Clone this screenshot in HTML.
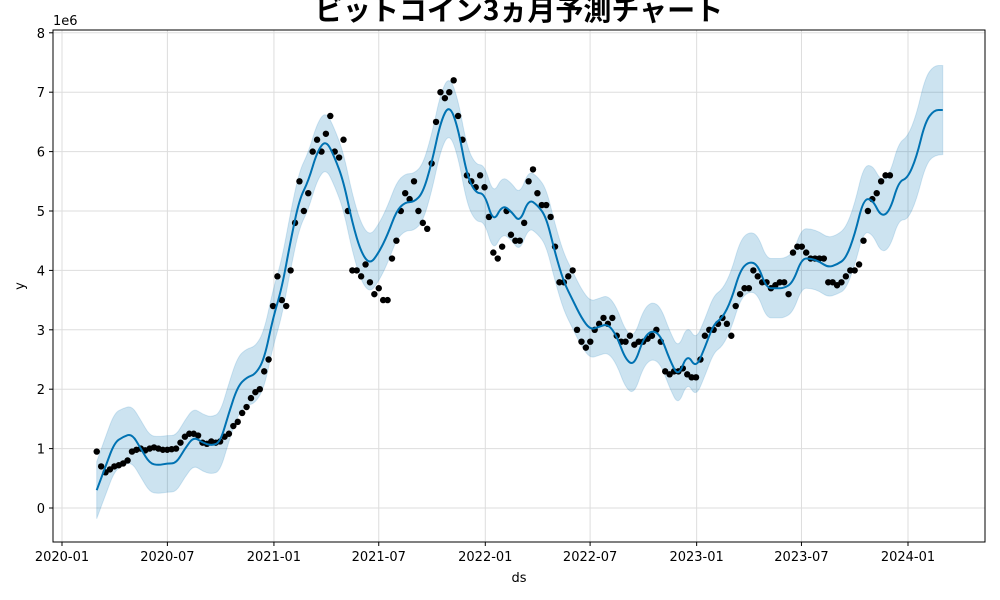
<!DOCTYPE html>
<html><head><meta charset="utf-8"><style>
html,body{margin:0;padding:0;background:#fff;}
svg{display:block;font-family:"DejaVu Sans","Liberation Sans","Noto Sans CJK JP",sans-serif;}
</style></head><body>
<svg id="chart" width="1000" height="600" viewBox="0 0 1000 600">
<text x="519" y="20" text-anchor="middle" font-size="28" font-weight="bold" font-family="'Noto Sans CJK JP','WenQuanYi Zen Hei',sans-serif">ビットコイン3ヵ月予測チャート</text>
<text x="53" y="25" font-size="13">1e6</text>
<text x="24" y="286" font-size="13" text-anchor="middle" transform="rotate(-90 24 286)">y</text>
<text x="519" y="582" font-size="13" text-anchor="middle">ds</text>
<g id="grid"></g><g id="band"></g><g id="pts"></g><g id="line"></g><g id="ticks"></g>
<rect x="53" y="30" width="932" height="512" fill="none" stroke="#000" stroke-width="1"/>
</svg>
<script>
// actual observations (1e6 JPY), sampled every quarter-month starting 2020-03-01
const actStartDay = 60;
const actStepDays = 7.61;
const actual = [0.95,0.7,0.6,0.65,0.7,0.72,0.75,0.8,0.95,0.98,1.0,0.97,1.0,1.02,1.0,0.98,0.98,0.99,1.0,1.1,1.2,1.25,1.25,1.22,1.1,1.08,1.12,1.1,1.12,1.2,1.25,1.38,1.45,1.6,1.7,1.85,1.95,2.0,2.3,2.5,
3.4,3.9,3.5,3.4,4.0,4.8,5.5,5.0,5.3,6.0,6.2,6.0,6.3,6.6,6.0,5.9,6.2,5.0,4.0,4.0,3.9,4.1,3.8,3.6,3.7,3.5,3.5,4.2,4.5,5.0,5.3,5.2,5.5,5.0,4.8,4.7,5.8,6.5,7.0,6.9,7.0,7.2,6.6,6.2,5.6,5.5,5.4,5.6,
5.4,4.9,4.3,4.2,4.4,5.0,4.6,4.5,4.5,4.8,5.5,5.7,5.3,5.1,5.1,4.9,4.4,3.8,3.8,3.9,4.0,3.0,2.8,2.7,2.8,3.0,3.1,3.2,3.1,3.2,2.9,2.8,2.8,2.9,2.75,2.8,2.8,2.85,2.9,3.0,2.8,2.3,2.25,2.3,2.3,2.35,2.25,2.2,
2.2,2.5,2.9,3.0,3.0,3.1,3.2,3.1,2.9,3.4,3.6,3.7,3.7,4.0,3.9,3.8,3.8,3.7,3.75,3.8,3.8,3.6,4.3,4.4,4.4,4.3,4.2,4.2,4.2,4.2,3.8,3.8,3.75,3.8,3.9,4.0,4.0,4.1,4.5,5.0,5.2,5.3,5.5,5.6,5.6];
// forecast, sampled every half-month starting 2020-03-01
const fcStartDay = 60;
const fcStepDays = 15.22;
const yhat = [0.3,0.7,1.1,1.2,1.25,1.0,0.75,0.72,0.75,0.75,1.0,1.2,1.1,1.05,1.1,1.6,2.05,2.2,2.25,2.5,
3.2,3.7,4.5,5.2,5.5,6.0,6.2,5.9,5.5,4.8,4.3,4.1,4.3,4.6,5.0,5.15,5.15,5.3,5.8,6.5,6.8,6.4,5.6,5.3,
5.3,4.8,5.1,5.0,4.8,5.2,5.1,4.9,4.3,3.8,3.5,3.2,3.0,3.05,3.1,2.9,2.5,2.4,2.85,3.0,2.9,2.5,2.2,2.6,
2.35,2.7,3.1,3.2,3.5,4.0,4.15,4.1,3.7,3.7,3.7,3.8,4.2,4.2,4.15,4.05,4.1,4.2,4.6,5.2,5.2,4.9,5.0,5.5,
5.55,5.9,6.5,6.7,6.7];
const upper = [0.78,1.2,1.6,1.68,1.72,1.48,1.22,1.2,1.22,1.22,1.48,1.68,1.58,1.53,1.6,2.1,2.55,2.68,2.72,2.98,
3.68,4.18,4.98,5.68,5.98,6.48,6.68,6.38,5.98,5.28,4.78,4.58,4.78,5.08,5.48,5.63,5.63,5.78,6.28,6.98,7.28,6.88,6.08,5.78,
5.78,5.28,5.58,5.48,5.28,5.68,5.58,5.38,4.78,4.28,3.98,3.68,3.48,3.53,3.58,3.38,2.98,2.88,3.33,3.48,3.38,2.98,2.68,3.08,
2.83,3.18,3.58,3.68,3.98,4.5,4.65,4.6,4.2,4.2,4.2,4.3,4.7,4.7,4.65,4.55,4.6,4.72,5.12,5.75,5.78,5.5,5.62,6.15,
6.25,6.62,7.25,7.45,7.45];
const lower = [-0.18,0.22,0.62,0.72,0.77,0.52,0.27,0.24,0.27,0.27,0.52,0.72,0.62,0.57,0.62,1.12,1.57,1.72,1.77,2.02,
2.72,3.22,4.02,4.72,5.02,5.52,5.72,5.42,5.02,4.32,3.82,3.62,3.82,4.12,4.52,4.67,4.67,4.82,5.32,6.02,6.32,5.92,5.12,4.82,
4.82,4.32,4.62,4.52,4.32,4.72,4.62,4.42,3.82,3.32,3.02,2.72,2.52,2.57,2.62,2.42,2.02,1.92,2.37,2.52,2.42,2.02,1.72,2.12,
1.87,2.22,2.62,2.72,3.02,3.5,3.65,3.6,3.2,3.2,3.2,3.3,3.7,3.7,3.65,3.55,3.6,3.68,4.08,4.65,4.62,4.3,4.38,4.85,
4.85,5.18,5.75,5.95,5.95];
const yTicks = [0,1,2,3,4,5,6,7,8];
const xTickLabels = ["2020-01","2020-07","2021-01","2021-07","2022-01","2022-07","2023-01","2023-07","2024-01"];
const xTickDays = [0,182,366,547,731,912,1096,1277,1461];

const NS = "http://www.w3.org/2000/svg";
const X = d => 62 + d * (846 / 1461);
const Y = v => 508 - v * 59.4;
function mk(tag, attrs, parent){const e=document.createElementNS(NS,tag);for(const k in attrs)e.setAttribute(k,attrs[k]);document.getElementById(parent).appendChild(e);return e;}
// smooth path through points using midpoint quadratic curves
function smooth(pts, start){
  let d = (start?'M':'L') + pts[0][0].toFixed(1)+','+pts[0][1].toFixed(1);
  for(let i=1;i<pts.length-1;i++){
    const mx=(pts[i][0]+pts[i+1][0])/2, my=(pts[i][1]+pts[i+1][1])/2;
    d += 'Q'+pts[i][0].toFixed(1)+','+pts[i][1].toFixed(1)+' '+mx.toFixed(1)+','+my.toFixed(1);
  }
  const l=pts[pts.length-1];
  d += 'L'+l[0].toFixed(1)+','+l[1].toFixed(1);
  return d;
}

yTicks.forEach(v=>{
  const g = mk('line',{x1:53,x2:985,y1:Y(v),y2:Y(v),stroke:'#ddd','stroke-width':1},'grid');
  
  
  mk('line',{x1:49,x2:53,y1:Y(v),y2:Y(v),stroke:'#000'},'ticks');
  const t = mk('text',{x:45,y:Y(v)+5,'text-anchor':'end','font-size':13},'ticks');
  t.textContent = v;
  
  
});
xTickDays.forEach((d,i)=>{
  const g = mk('line',{x1:X(d),x2:X(d),y1:30,y2:542,stroke:'#ddd','stroke-width':1},'grid');
  
  
  mk('line',{x1:X(d),x2:X(d),y1:542,y2:546,stroke:'#000'},'ticks');
  const t = mk('text',{x:X(d),y:561,'text-anchor':'middle','font-size':13},'ticks');
  t.textContent = xTickLabels[i];
  
  
});

const upPts = upper.map((v,i)=>[X(fcStartDay+i*fcStepDays),Y(v)]);
const loPts = lower.map((v,i)=>[X(fcStartDay+i*fcStepDays),Y(v)]).reverse();
const band = mk('path',{d:smooth(upPts,true)+smooth(loPts,false)+'Z',fill:'#0072B2','fill-opacity':0.2,stroke:'#0072B2','stroke-opacity':0.15},'band');



const linePts = yhat.map((v,i)=>[X(fcStartDay+i*fcStepDays),Y(v)]);
const line = mk('path',{d:smooth(linePts,true),fill:'none',stroke:'#0072B2','stroke-width':2,'stroke-linejoin':'round'},'line');



actual.forEach((v,i)=>{
  const c = mk('circle',{cx:X(actStartDay+i*actStepDays),cy:Y(v),r:3.2,fill:'#000'},'pts');
  
  
});
</script>
</body></html>
